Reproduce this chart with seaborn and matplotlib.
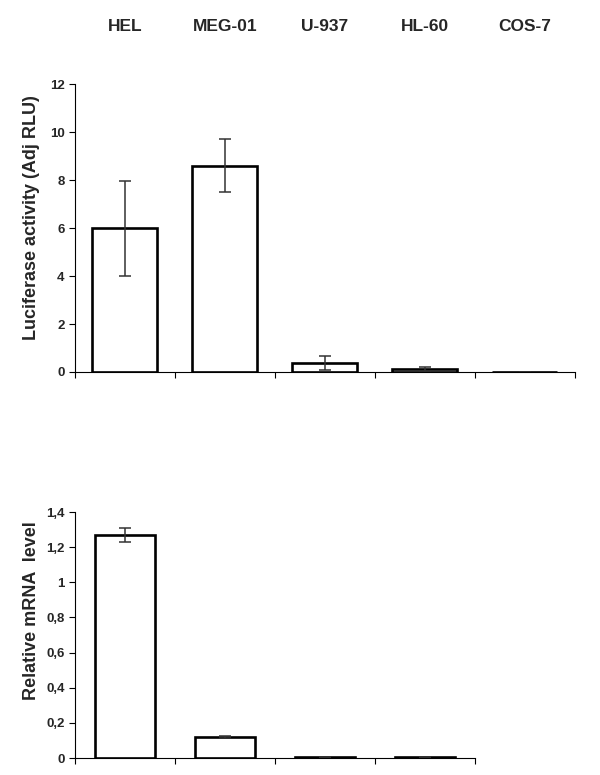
import numpy as np
import seaborn as sns
import matplotlib.pyplot as plt

# Cell lines (column headers)
cells = ["HEL", "MEG-01", "U-937", "HL-60", "COS-7"]

# Luciferase activity (Adj RLU)
luc_vals = [5.98, 8.6, 0.38, 0.12, 0.02]
luc_errs = [1.97, 1.1, 0.28, 0.1, 0.0]

# Relative mRNA level (no COS-7 measurement)
mrna_cells = ["HEL", "MEG-01", "U-937", "HL-60"]
mrna_vals = [1.27, 0.12, 0.005, 0.005]
mrna_errs = [0.04, 0.006, 0.0, 0.0]

sns.set_style("ticks")
plt.rcParams["font.family"] = ["Liberation Sans", "DejaVu Sans"]
plt.rcParams["font.weight"] = "bold"

fig = plt.figure(figsize=(6, 7.75), dpi=100)
ax1 = fig.add_axes([0.125, 0.52, 0.8333, 0.3716])
ax2 = fig.add_axes([0.125, 0.0219, 0.6667, 0.3174])


def draw(ax, names, vals, errs, width, ymax, step, label, fmt):
    sns.barplot(x=names, y=vals, ax=ax, color="white", width=width,
                edgecolor="black", linewidth=1.9, saturation=1)
    ax.errorbar(np.arange(len(names)), vals, yerr=errs, fmt="none",
                ecolor="#333333", elinewidth=1.1, capsize=4, capthick=1.1)
    ax.set_xlim(-0.5, len(names) - 0.5)
    ax.set_ylim(0, ymax)
    ax.set_xticks(np.arange(len(names) + 1) - 0.5)
    ax.set_xticklabels([])
    yt = np.arange(0, ymax + step / 2, step)
    ax.set_yticks(yt)
    ax.set_yticklabels([fmt(v) for v in yt], fontsize=9.5, fontweight="bold")
    ax.tick_params(axis="both", direction="out", length=4, width=0.8,
                   color="black")
    for s in ["top", "right"]:
        ax.spines[s].set_visible(False)
    for s in ["left", "bottom"]:
        ax.spines[s].set_linewidth(0.8)
        ax.spines[s].set_color("black")
    ax.set_ylabel(label, fontsize=13, fontweight="bold")
    ax.set_xlabel("")


draw(ax1, cells, luc_vals, luc_errs, 0.65, 12, 2,
     "Luciferase activity (Adj RLU)", lambda v: f"{v:g}")
ax1.yaxis.set_label_coords(-0.07, 0.535)

draw(ax2, mrna_cells, mrna_vals, mrna_errs, 0.6, 1.4, 0.2,
     "Relative mRNA  level", lambda v: f"{v:g}".replace(".", ","))
ax2.yaxis.set_label_coords(-0.0875, 0.6)

# cell line headers above the top panel
for i, name in enumerate(cells):
    ax1.text(i, 1.2, name, transform=ax1.get_xaxis_transform(),
             ha="center", va="center", fontsize=12.5, fontweight="bold")

fig.savefig("out.png", dpi=100)
